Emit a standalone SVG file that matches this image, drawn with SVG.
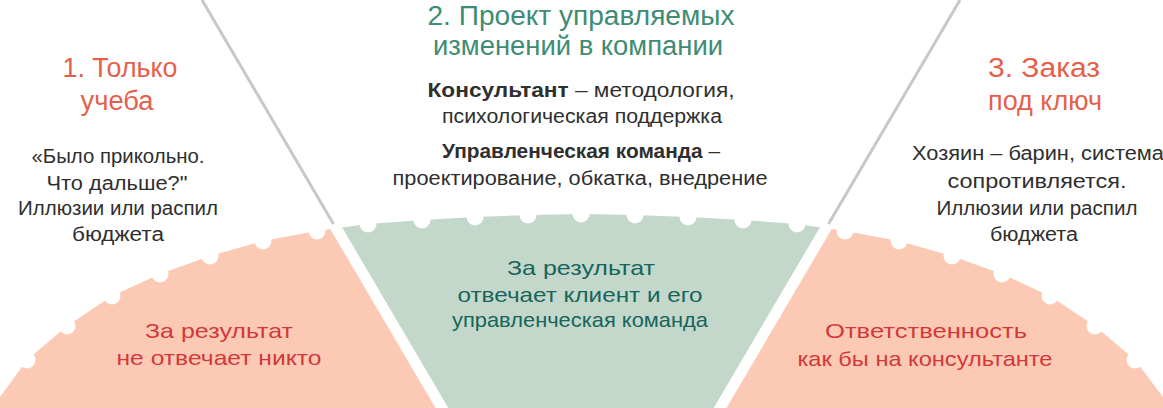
<svg xmlns="http://www.w3.org/2000/svg" width="1163" height="408" viewBox="0 0 1163 408">
<style>
text{font-family:"Liberation Sans","Noto Sans",Arial,sans-serif;text-anchor:middle}
.h{font-size:27px}
.hr{fill:#E5604A}
.hg{fill:#3E8C73}
.b{font-size:20px;fill:#2f2f2f}
.bb{font-weight:bold}
.lr{font-size:21px;fill:#D2383A}
.lg{font-size:21px;fill:#17655A}
.notch{fill:#ffffff}
.gap{stroke:#ffffff;stroke-width:11;fill:none}
.div{stroke:#C6C8C9;stroke-width:3;fill:none}
</style>
<defs>
<clipPath id="fan">
<path d="M-10,412 L0,397 L27,360 L67,326 L112,296 L160,274 L210,256 L263,241 L317,231 L368,224 L422,220 L475,217 L528,215 L581,214 L635,215 L688,217 L743,220 L797,224 L845,231 L899,241 L952,256 L1002,274 L1050,296 L1095,326 L1135,360 L1163,397 L1173,412 L1173,420 L-10,420 Z"/>
</clipPath>
<circle id="n" class="notch" r="8.5"/>
</defs>
<rect width="1163" height="408" fill="#ffffff"/>

<g id="seg-left">
<polygon points="-10,0 202,0 449,420 -10,420" fill="#FCCAB4" clip-path="url(#fan)"/>
</g>
<g id="seg-center">
<polygon points="202,0 960,0 713,420 449,420" fill="#C3D8CB" clip-path="url(#fan)"/>
</g>
<g id="seg-right">
<polygon points="960,0 1175,0 1175,420 713,420" fill="#FCCAB4" clip-path="url(#fan)"/>
</g>

<g id="notches">
<use href="#n" x="27" y="360"/>
<use href="#n" x="67" y="326"/>
<use href="#n" x="112" y="296"/>
<use href="#n" x="160" y="274"/>
<use href="#n" x="210" y="256"/>
<use href="#n" x="263" y="241"/>
<use href="#n" x="317" y="231"/>
<use href="#n" x="368" y="224"/>
<use href="#n" x="422" y="220"/>
<use href="#n" x="475" y="217"/>
<use href="#n" x="528" y="215"/>
<use href="#n" x="581" y="214"/>
<use href="#n" x="635" y="215"/>
<use href="#n" x="688" y="217"/>
<use href="#n" x="743" y="220"/>
<use href="#n" x="797" y="224"/>
<use href="#n" x="845" y="231"/>
<use href="#n" x="899" y="241"/>
<use href="#n" x="952" y="256"/>
<use href="#n" x="1002" y="274"/>
<use href="#n" x="1050" y="296"/>
<use href="#n" x="1095" y="326"/>
<use href="#n" x="1135" y="360"/>
</g>

<g id="connectors">
<line class="gap" x1="319.6" y1="200" x2="449" y2="420"/>
<line class="gap" x1="842.4" y1="200" x2="713" y2="420"/>
<line class="div" x1="202" y1="0" x2="333.5" y2="224"/>
<line class="div" x1="960" y1="0" x2="828.5" y2="224"/>
</g>

<g id="node-1">
<text class="h hr" x="120" y="77" textLength="115" lengthAdjust="spacingAndGlyphs">1. Только</text>
<text class="h hr" x="117" y="110" textLength="73" lengthAdjust="spacingAndGlyphs">учеба</text>
<text class="b" x="118" y="163" textLength="173" lengthAdjust="spacingAndGlyphs">«Было прикольно.</text>
<text class="b" x="117" y="190" textLength="141" lengthAdjust="spacingAndGlyphs">Что дальше?"</text>
<text class="b" x="118" y="215" textLength="200" lengthAdjust="spacingAndGlyphs">Иллюзии или распил</text>
<text class="b" x="118" y="241" textLength="92" lengthAdjust="spacingAndGlyphs">бюджета</text>
<text class="lr" x="219" y="338" textLength="148" lengthAdjust="spacingAndGlyphs">За результат</text>
<text class="lr" x="219" y="365" textLength="205" lengthAdjust="spacingAndGlyphs">не отвечает никто</text>
</g>

<g id="node-2">
<text class="h hg" x="581" y="25" textLength="307" lengthAdjust="spacingAndGlyphs">2. Проект управляемых</text>
<text class="h hg" x="578" y="55" textLength="290" lengthAdjust="spacingAndGlyphs">изменений в компании</text>
<text class="b" x="581" y="97" textLength="307" lengthAdjust="spacingAndGlyphs"><tspan class="bb">Консультант</tspan> – методология,</text>
<text class="b" x="582" y="123" textLength="280" lengthAdjust="spacingAndGlyphs">психологическая поддержка</text>
<text class="b" x="581" y="158" textLength="278" lengthAdjust="spacingAndGlyphs"><tspan class="bb">Управленческая команда</tspan> –</text>
<text class="b" x="580" y="185" textLength="375" lengthAdjust="spacingAndGlyphs">проектирование, обкатка, внедрение</text>
<text class="lg" x="581" y="275" textLength="148" lengthAdjust="spacingAndGlyphs">За результат</text>
<text class="lg" x="580" y="302" textLength="245" lengthAdjust="spacingAndGlyphs">отвечает клиент и его</text>
<text class="lg" x="580" y="327" textLength="256" lengthAdjust="spacingAndGlyphs">управленческая команда</text>
</g>

<g id="node-3">
<text class="h hr" x="1044" y="77" textLength="112" lengthAdjust="spacingAndGlyphs">3. Заказ</text>
<text class="h hr" x="1045" y="110" textLength="114" lengthAdjust="spacingAndGlyphs">под ключ</text>
<text class="b" x="1038" y="160" textLength="252" lengthAdjust="spacingAndGlyphs">Хозяин – барин, система</text>
<text class="b" x="1037" y="188" textLength="179" lengthAdjust="spacingAndGlyphs">сопротивляется.</text>
<text class="b" x="1037" y="215" textLength="201" lengthAdjust="spacingAndGlyphs">Иллюзии или распил</text>
<text class="b" x="1034" y="241" textLength="88" lengthAdjust="spacingAndGlyphs">бюджета</text>
<text class="lr" x="926" y="338" textLength="202" lengthAdjust="spacingAndGlyphs">Ответственность</text>
<text class="lr" x="925" y="366" textLength="255" lengthAdjust="spacingAndGlyphs">как бы на консультанте</text>
</g>
</svg>
